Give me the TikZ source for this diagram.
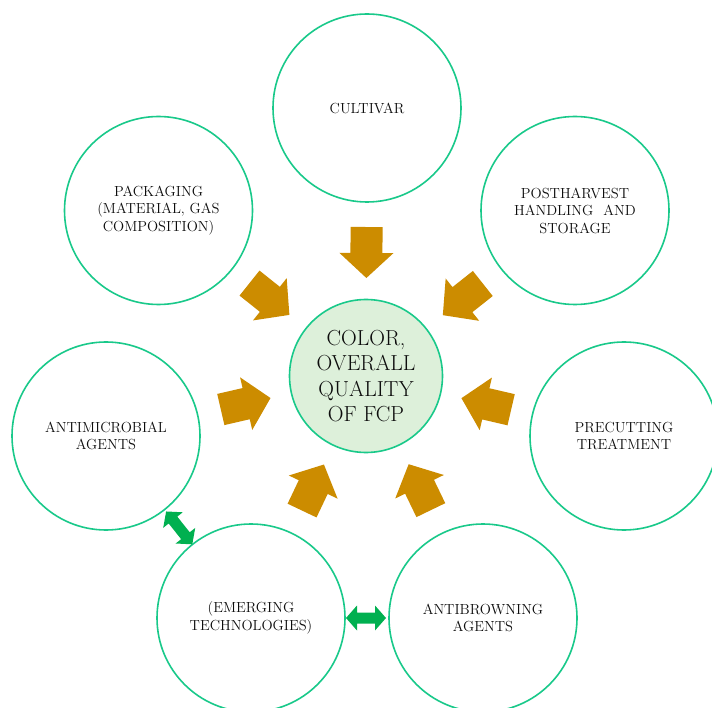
\documentclass[tikz,border=0pt]{standalone}
\usetikzlibrary{calc}
\definecolor{ringgreen}{HTML}{19C98A}
\definecolor{gold}{HTML}{CC8C00}
\definecolor{arrgreen}{HTML}{00B050}
\definecolor{corefill}{HTML}{DDF0DA}
\definecolor{txt}{HTML}{0D0D0D}
% block arrow from node #1 toward the core node (ce)
\newcommand\goldblock[1]{%
  \coordinate (gT) at ($(ce)!149pt!(#1)$);
  \coordinate (gB) at ($(ce)!123pt!(#1)$);
  \coordinate (gP) at ($(ce)!98pt!(#1)$);
  \fill[goldfill] ($(gT)!16pt!90:(ce)$) -- ($(gB)!16pt!90:(ce)$) -- ($(gB)!27pt!90:(ce)$) -- (gP)
    -- ($(gB)!27pt!-90:(ce)$) -- ($(gB)!16pt!-90:(ce)$) -- ($(gT)!16pt!-90:(ce)$) -- cycle;}
% double block arrow between nodes #1 and #2, from distance #3 to #4 measured from #1
\newcommand\linkblock[4]{%
  \coordinate (lS) at ($(#1)!#3!(#2)$);
  \coordinate (lE) at ($(#1)!#4!(#2)$);
  \coordinate (lS2) at ($(lS)!11pt!(lE)$);
  \coordinate (lE2) at ($(lE)!11pt!(lS)$);
  \fill[linkfill] (lS) -- ($(lS2)!12.5pt!90:(lE)$) -- ($(lS2)!5.5pt!90:(lE)$) -- ($(lE2)!5.5pt!-90:(lS)$)
    -- ($(lE2)!12.5pt!-90:(lS)$) -- (lE) -- ($(lE2)!12.5pt!90:(lS)$) -- ($(lE2)!5.5pt!90:(lS)$)
    -- ($(lS2)!5.5pt!-90:(lE)$) -- ($(lS2)!12.5pt!-90:(lE)$) -- cycle;}
\begin{document}
\begin{tikzpicture}[x=1pt,y=-1pt,
  ring/.style={circle,draw=ringgreen,line width=1.6pt,minimum size=188pt,inner sep=0pt,outer sep=0pt,align=center,text=txt,font=\fontsize{14.6}{17.5}\selectfont},
  core/.style={ring,fill=corefill,minimum size=153pt,font=\fontsize{21.8}{25.5}\selectfont},
  goldfill/.style={fill=gold},
  linkfill/.style={fill=arrgreen}]
\useasboundingbox[fill=white] (0,0) rectangle (712,708);
\clip (0,0) rectangle (712,708);
\node[core] (ce) at (366,376) {COLOR,\\OVERALL\\QUALITY\\OF FCP};
\node[ring] (cu) at (367,108) {CULTIVAR};
\node[ring] (pk) at (158.5,210.5) {PACKAGING\\(MATERIAL, GAS\\COMPOSITION)};
\node[ring] (ph) at (575,210.5) {POSTHARVEST\\HANDLING\hspace{0.7em}AND\\STORAGE};
\node[ring] (am) at (106,436) {ANTIMICROBIAL\\AGENTS};
\node[ring] (pc) at (624,436) {PRECUTTING\\TREATMENT};
\node[ring] (em) at (251,618) {(EMERGING\\TECHNOLOGIES)};
\node[ring] (ab) at (483,618) {ANTIBROWNING\\AGENTS};
\foreach \n in {cu,pk,ph,am,pc,em,ab} {\goldblock{\n}}
\linkblock{am}{em}{96.5pt}{138.5pt}
\linkblock{em}{ab}{95pt}{135pt}
\end{tikzpicture}
\end{document}
